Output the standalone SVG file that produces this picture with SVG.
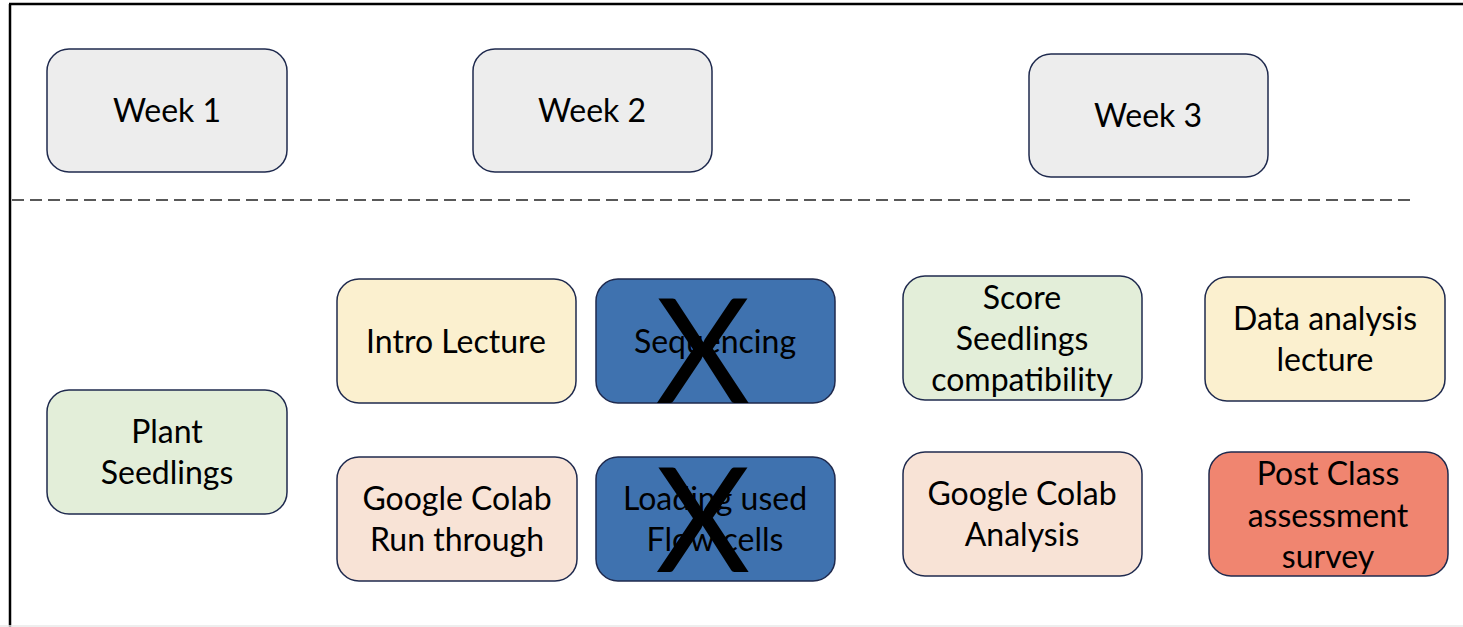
<svg xmlns="http://www.w3.org/2000/svg" width="1463" height="627" viewBox="0 0 1463 627">
<style>
.box{stroke:#1F2A4E;stroke-width:1.5}
.t{font-family:Lato,"Liberation Sans",sans-serif;font-size:32px;fill:#000;text-anchor:middle;dominant-baseline:central}
.x{font-family:Lato,"Liberation Sans",sans-serif;font-size:146px;fill:#000;text-anchor:middle}
.grey{fill:#EDEDED}.yel{fill:#FBF0CF}.grn{fill:#E3EED9}.pch{fill:#F8E3D6}.blu{fill:#3F72AF}.red{fill:#F08570}
</style>
<rect width="1463" height="627" fill="#fff"/>
<line x1="10" y1="4" x2="10" y2="627" stroke="#000" stroke-width="2.5"/>
<line x1="9" y1="4" x2="1463" y2="4" stroke="#000" stroke-width="2.5"/>
<line x1="0" y1="626" x2="1463" y2="626" stroke="#e8e8e8" stroke-width="1.5"/>
<g id="connectors">
<line x1="12" y1="200" x2="1414" y2="200" stroke="#222" stroke-width="1.5" stroke-dasharray="12,6"/>
</g>
<g id="week1"><rect class="box grey" x="47" y="49" width="240" height="123" rx="22"/><text class="t" x="167" y="109">Week 1</text></g>
<g id="week2"><rect class="box grey" x="473" y="49" width="239" height="123" rx="22"/><text class="t" x="592" y="109">Week 2</text></g>
<g id="week3"><rect class="box grey" x="1029" y="54" width="239" height="123" rx="22"/><text class="t" x="1148" y="114">Week 3</text></g>
<g id="plant"><rect class="box grn" x="47" y="390" width="240" height="124" rx="22"/><text class="t" x="167" y="430">Plant</text><text class="t" x="167" y="471">Seedlings</text></g>
<g id="intro"><rect class="box yel" x="337" y="279" width="239" height="124" rx="22"/><text class="t" x="456" y="340">Intro Lecture</text></g>
<g id="seq"><rect class="box blu" x="596" y="279" width="239" height="124" rx="22"/><text class="t" x="715" y="340">Sequencing</text><text class="x" x="703" y="403">X</text></g>
<g id="colab1"><rect class="box pch" x="337" y="457" width="240" height="124" rx="22"/><text class="t" x="457" y="497">Google Colab</text><text class="t" x="457" y="538">Run through</text></g>
<g id="loading"><rect class="box blu" x="596" y="457" width="239" height="124" rx="22"/><text class="t" x="715" y="497">Loading used</text><text class="t" x="715" y="538">Flow cells</text><text class="x" x="703" y="572">X</text></g>
<g id="score"><rect class="box grn" x="903" y="276" width="239" height="124" rx="22"/><text class="t" x="1022" y="296">Score</text><text class="t" x="1022" y="337">Seedlings</text><text class="t" x="1022" y="378">compatibility</text></g>
<g id="data"><rect class="box yel" x="1205" y="277" width="240" height="124" rx="22"/><text class="t" x="1325" y="317">Data analysis</text><text class="t" x="1325" y="358">lecture</text></g>
<g id="colab2"><rect class="box pch" x="903" y="452" width="239" height="124" rx="22"/><text class="t" x="1022" y="492">Google Colab</text><text class="t" x="1022" y="533">Analysis</text></g>
<g id="post"><rect class="box red" x="1209" y="452" width="239" height="124" rx="22"/><text class="t" x="1328" y="472">Post Class</text><text class="t" x="1328" y="514">assessment</text><text class="t" x="1328" y="555">survey</text></g>
</svg>
